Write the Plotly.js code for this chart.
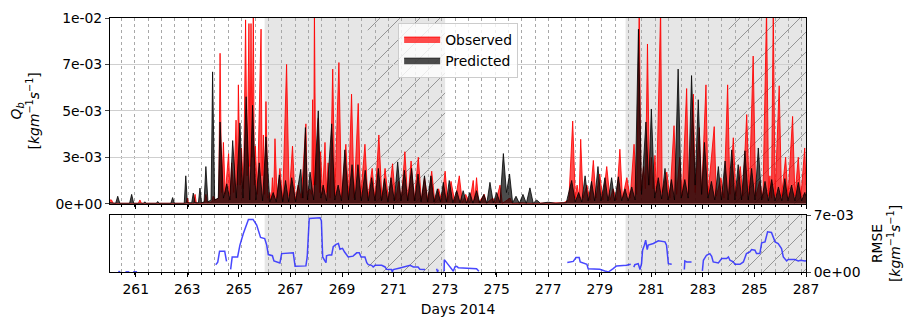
<!DOCTYPE html>
<html>
<head>
<meta charset="utf-8">
<script src="https://cdn.plot.ly/plotly-3.0.1.min.js"></script>
<style>html,body{margin:0;padding:0;background:#fff;}#chart{width:906px;height:317px;}</style>
</head>
<body>
<div id="chart"></div>
<script>
// ---- Data: [day of 2014, Qb in units of 1e-3 kg m^-1 s^-1] ----
const observed = [
[260.0,0.2],[260.06,0.2],[260.12,0.02],[261.1,0.02],[261.16,0.2],[261.22,0.02],[262.95,0.02],[263.0,0.3],[263.05,0.02],[263.25,0.02],[263.3,0.5],[263.35,0.02],
[263.66,0.05],[263.72,0.5],[263.78,0.05],[263.95,0.1],[264.0,0.4],[264.1,0.2],[264.22,0.3],
[264.27,8.1],[264.33,0.6],[264.4,3.3],[264.47,0.5],[264.53,1.6],[264.6,2.7],[264.66,0.5],[264.72,2.2],[264.8,0.6],[264.89,4.5],[264.94,1.0],[264.98,6.4],
[265.05,1.0],[265.1,3.0],[265.18,0.8],[265.26,9.9],[265.32,1.5],[265.39,9.7],[265.43,2.0],[265.47,9.7],[265.51,2.5],[265.56,10.5],[265.6,1.0],[265.64,3.1],[265.72,0.5],
[265.86,9.4],[265.9,1.5],[265.95,3.7],[266.0,0.5],[266.05,5.5],[266.12,0.3],[266.2,0.6],[266.26,0.2],[266.3,1.4],[266.35,0.3],[266.4,3.5],[266.48,0.3],[266.59,1.9],
[266.7,0.2],[266.85,7.5],[266.95,0.4],[267.08,3.1],[267.18,0.2],[267.3,1.0],[267.42,0.3],[267.6,4.3],[267.65,0.6],[267.75,0.8],[267.82,0.5],[267.86,5.6],[267.9,1.0],
[267.93,10.5],[267.98,1.0],[268.08,4.6],[268.13,0.6],[268.17,2.8],[268.25,0.5],[268.34,3.3],[268.4,0.6],[268.46,2.2],[268.54,0.3],[268.64,7.25],[268.72,0.4],
[268.88,7.6],[268.98,0.3],[269.15,3.2],[269.25,0.3],[269.37,5.9],[269.47,0.3],[269.63,5.4],[269.72,0.3],[269.89,3.2],[270.0,0.3],[270.17,1.9],[270.28,0.2],
[270.43,3.7],[270.55,0.2],[270.67,1.9],[270.8,0.2],[270.96,2.15],[271.08,0.2],[271.2,1.2],[271.3,0.15],[271.44,2.8],[271.55,0.15],[271.68,2.3],[271.8,0.15],
[271.96,2.5],[272.08,0.15],[272.2,1.4],[272.34,0.1],[272.48,1.75],[272.6,0.1],[272.75,0.8],[272.87,0.1],[273.0,1.75],[273.1,0.1],[273.23,1.2],[273.38,0.05],
[273.55,1.5],[273.67,0.05],[273.8,0.5],[273.95,0.05],[274.09,1.25],[274.15,0.2],[274.22,1.4],[274.3,0.05],[274.52,0.5],[274.6,0.02],[274.85,0.3],[274.95,0.02],
[275.13,1.0],[275.22,0.02],[275.52,0.3],[275.6,0.02],[276.0,0.05],[276.3,0.02],[276.6,0.02],[277.0,0.05],[277.3,0.02],[277.6,0.05],[277.8,0.2],
[277.95,4.45],[278.05,0.3],[278.12,1.0],[278.2,0.3],[278.26,3.47],[278.35,0.3],[278.5,1.0],[278.62,0.2],[278.75,2.33],[278.85,0.3],[279.0,1.6],
[279.12,0.2],[279.27,2.0],[279.4,0.2],[279.52,0.8],[279.65,0.2],[279.78,2.93],[279.88,0.3],[280.05,1.4],[280.18,0.3],[280.33,3.2],[280.43,0.5],
[280.53,10.5],[280.6,0.7],[280.7,2.0],[280.77,0.8],[280.85,8.6],[280.93,1.0],[281.0,2.5],[281.07,0.8],[281.14,2.6],[281.2,0.6],[281.36,10.5],[281.42,0.6],
[281.6,1.7],[281.72,0.3],[281.88,4.2],[281.98,0.5],[282.1,2.5],[282.2,0.4],[282.37,6.2],[282.45,0.5],[282.63,5.9],[282.7,0.6],[282.86,4.1],[282.95,0.5],
[283.12,6.4],[283.2,0.5],[283.44,4.15],[283.52,0.4],[283.7,1.4],[283.82,0.3],[283.96,6.4],[284.05,0.5],[284.18,3.55],[284.28,0.4],[284.45,2.0],[284.55,0.4],
[284.7,4.8],[284.8,0.5],[284.95,7.95],[285.05,0.4],[285.2,1.2],[285.33,0.3],[285.47,10.5],[285.55,0.4],[285.6,1.5],[285.66,0.3],[285.73,10.5],[285.8,0.4],
[285.96,6.35],[286.05,0.4],[286.21,2.5],[286.3,0.3],[286.48,4.7],[286.57,0.4],[286.7,2.5],[286.8,0.3],[286.95,3.0],[287.0,1.0]];

const predicted = [
[260.0,0.05],[260.22,0.02],[260.3,0.4],[260.38,0.02],[260.76,0.02],[260.84,0.5],[260.92,0.02],[261.3,0.02],[261.35,0.1],[261.4,0.02],[261.8,0.02],[261.85,0.12],
[261.9,0.02],[262.36,0.02],[262.43,0.33],[262.5,0.02],[262.88,0.02],[262.94,1.5],[263.0,0.05],[263.17,0.05],[263.23,0.57],[263.3,0.05],[263.43,0.05],[263.49,0.84],
[263.55,0.05],[263.65,0.1],[263.72,2.0],[263.8,0.1],[263.92,0.2],[263.98,7.1],[264.06,0.2],[264.2,0.3],[264.27,4.4],[264.4,0.3],[264.53,1.07],[264.65,0.2],
[264.76,3.4],[264.9,0.3],[265.04,4.35],[265.16,0.3],[265.28,5.76],[265.42,0.2],[265.53,5.3],[265.66,0.2],[265.79,2.2],[265.92,0.15],[266.05,3.6],[266.2,0.1],
[266.33,0.6],[266.45,0.1],[266.57,1.55],[266.7,0.1],[266.81,1.25],[266.93,0.1],[267.05,1.4],[267.2,0.1],[267.4,1.85],[267.48,0.3],[267.58,4.1],[267.66,0.2],
[267.76,1.7],[267.9,0.2],[268.08,5.0],[268.18,0.3],[268.27,1.0],[268.4,0.15],[268.6,4.3],[268.72,0.2],[268.85,1.0],[268.98,0.15],[269.11,2.9],[269.25,0.2],
[269.39,2.1],[269.5,0.2],[269.62,2.1],[269.75,0.15],[269.9,1.8],[270.02,0.15],[270.15,1.4],[270.28,0.15],[270.41,1.9],[270.53,0.15],[270.65,1.35],[270.78,0.1],
[270.9,1.4],[271.03,0.15],[271.16,2.25],[271.29,0.15],[271.42,1.8],[271.55,0.15],[271.7,1.9],[271.82,0.15],[271.95,1.6],[272.07,0.1],[272.2,1.5],[272.32,0.1],
[272.45,1.5],[272.57,0.1],[272.7,0.8],[272.82,0.1],[272.93,1.15],[273.05,0.1],[273.16,1.25],[273.3,0.05],[273.45,0.7],[273.58,0.05],[273.7,0.7],[273.83,0.03],
[273.96,0.6],[274.08,0.03],[274.22,0.7],[274.35,0.03],[274.5,0.5],[274.62,0.03],[274.74,1.15],[274.87,0.05],[275.0,0.6],[275.13,0.05],[275.26,2.7],[275.38,0.6],
[275.5,1.6],[275.62,0.05],[275.75,0.4],[275.88,0.02],[276.02,0.5],[276.15,0.02],[276.29,0.85],[276.42,0.02],[276.55,0.2],[276.7,0.02],[277.0,0.08],[277.3,0.02],
[277.55,0.05],[277.7,0.05],[277.91,1.25],[278.05,0.1],[278.18,0.6],[278.3,0.1],[278.43,1.5],[278.55,0.15],[278.68,1.2],[278.8,0.15],[278.93,2.0],[279.05,0.15],
[279.2,1.4],[279.32,0.15],[279.46,1.4],[279.58,0.15],[279.72,1.45],[279.85,0.15],[279.98,0.8],[280.1,0.15],[280.24,0.9],[280.37,0.2],[280.5,9.4],[280.62,0.5],
[280.79,4.4],[280.9,1.0],[281.0,5.1],[281.13,0.3],[281.27,1.4],[281.4,0.25],[281.53,1.9],[281.65,0.2],[281.78,1.3],[281.9,0.2],[282.04,7.25],[282.16,0.3],
[282.3,1.3],[282.43,0.3],[282.56,6.9],[282.7,1.0],[282.82,5.6],[282.95,0.5],[283.06,3.3],[283.2,0.3],[283.33,1.2],[283.46,0.2],[283.6,2.0],[283.72,0.2],
[283.86,2.3],[283.98,0.2],[284.12,2.9],[284.24,0.2],[284.37,2.1],[284.5,0.2],[284.63,2.85],[284.76,0.2],[284.89,1.9],[285.02,0.2],[285.15,3.0],[285.28,0.2],
[285.41,1.2],[285.54,0.15],[285.67,1.3],[285.8,0.15],[285.93,0.9],[286.06,0.15],[286.18,1.35],[286.3,0.15],[286.44,1.0],[286.57,0.15],[286.7,1.15],[286.83,0.15],
[286.95,0.6],[287.0,0.4]];

// RMSE (units of 1e-3), null = gap in record
const rmseDays = [260.32,260.4,null,260.6,260.75,null,260.9,261.05,null,
264.1,264.18,264.25,264.45,264.52,null,
264.68,264.74,264.95,265.04,265.17,265.3,265.37,265.55,265.69,265.84,266.0,266.08,266.14,266.3,266.36,266.59,266.66,267.11,267.18,267.6,267.65,267.73,268.15,268.2,268.25,268.33,268.38,268.4,268.5,268.6,268.66,268.77,268.86,268.92,269.02,269.1,269.24,269.43,269.57,269.67,269.74,269.89,269.96,270.02,270.15,270.21,270.28,270.54,270.67,270.73,270.92,270.95,270.99,271.25,271.38,271.51,271.64,271.77,271.95,272.02,272.22,null,
272.67,272.71,272.73,null,
272.96,272.97,273.06,273.25,273.32,273.38,273.45,273.51,273.7,274.22,274.31,null,
277.74,277.97,278.08,278.2,278.24,278.37,278.5,278.55,278.95,279.0,279.2,279.33,279.52,279.65,280.04,280.2,null,
280.32,280.36,280.49,280.56,280.62,280.66,280.73,280.78,280.84,280.88,281.08,281.21,281.27,281.53,281.59,281.66,281.79,null,
282.28,282.3,282.37,282.56,null,
282.98,283.02,283.14,283.27,283.34,283.4,283.6,283.66,283.73,283.92,283.99,284.05,284.18,284.24,284.44,284.57,284.69,284.82,284.89,285.02,285.08,285.21,285.28,285.41,285.51,285.66,285.73,285.8,285.92,285.99,286.05,286.12,286.18,286.25,286.31,286.57,286.7,286.79,286.96,287.0];
const rmseVal = [0.05,0.05,null,0.02,0.02,null,0.02,0.02,null,
0.9,1.2,2.55,2.55,1.3,null,
0.33,1.85,1.85,3.3,4.7,5.76,6.46,6.46,5.76,4.24,4.1,3.3,2.14,2.0,1.36,1.1,2.26,2.35,0.7,0.75,1.85,6.58,6.66,6.3,1.85,1.4,1.15,2.0,2.1,2.1,3.1,3.4,3.5,2.8,2.9,2.45,1.85,1.95,2.35,2.35,1.85,1.85,1.15,0.9,0.82,0.62,0.82,0.82,0.62,0.33,0.3,0.0,0.3,0.5,0.62,0.75,0.82,0.62,0.62,0.33,0.3,null,
0.4,0.0,0.3,null,
0.1,1.5,1.15,0.4,0.1,0.62,0.7,0.53,0.5,0.4,0.1,null,
1.16,1.3,1.77,1.77,1.24,1.12,0.95,0.41,0.41,0.33,0.12,0.0,0.41,0.74,0.82,0.95,null,
0.6,0.9,1.03,0.3,1.03,2.67,3.3,3.9,2.76,3.3,3.5,3.7,3.83,3.7,3.3,1.03,0.95,null,
0.3,1.36,1.24,1.24,null,
0.13,1.44,2.06,2.26,1.94,1.24,1.12,1.44,1.65,1.65,1.85,1.44,1.24,0.95,0.95,1.24,2.26,2.47,2.76,2.67,2.26,2.26,3.58,3.7,4.94,4.86,4.32,3.7,3.5,3.09,2.88,1.85,1.65,1.36,1.53,1.53,1.36,1.44,1.36,1.4];

const shadeSpans = [[266,273],[280,287]];
const hatchSpans = [[270,273],[284,287]];
const qbTickVals = [0,0.0025,0.005,0.0075,0.01];
const qbTickText = ['0e+00','3e-03','5e-03','7e-03','1e-02'];
const rmseTickVals = [0,0.007];
const rmseTickText = ['0e+00','7e-03'];
const TIDAL_CYCLE = 0.5175;   // M2 period in days (dotted guide lines)
const CYCLE_START = 260.45;
const SCALE = 1e-3;
const X_RANGE = [260, 287];
const QB_MAX = 0.01, RMSE_MAX = 0.007;

const FONT = 'DejaVu Sans';
const FS = 13.9;

// ---- Layout geometry ----
const W = 906, H = 317, M = {l:110, r:100, t:18, b:45};
const plotW = W - M.l - M.r, plotH = H - M.t - M.b;
const DOM_TOP = [0.269, 1], DOM_BOT = [0, 0.2244];
const HATCH_GAP = 20; // px between hatch lines

const traces = [];
traces.push({
  type:'scatter', mode:'lines', name:'Observed',
  x:observed.map(p=>p[0]), y:observed.map(p=>p[1]*SCALE),
  xaxis:'x', yaxis:'y', fill:'tozeroy', fillcolor:'rgba(255,0,0,0.7)',
  line:{color:'rgba(255,0,0,0.85)', width:1}
});
traces.push({
  type:'scatter', mode:'lines', name:'Predicted',
  x:predicted.map(p=>p[0]), y:predicted.map(p=>p[1]*SCALE),
  xaxis:'x', yaxis:'y', fill:'tozeroy', fillcolor:'rgba(0,0,0,0.7)',
  line:{color:'rgba(0,0,0,0.8)', width:1}
});
traces.push({
  type:'scatter', mode:'lines', name:'RMSE', x:rmseDays, y:rmseVal.map(v=>v===null?null:v*SCALE),
  xaxis:'x2', yaxis:'y2', line:{color:'rgba(40,40,255,0.85)', width:1.5}, showlegend:false,
  connectgaps:false
});

const shapes = [];
shadeSpans.forEach(s => {
  ['y domain','y2 domain'].forEach((yr,i) => {
    shapes.push({type:'rect', xref: i===0?'x':'x2', yref:yr, x0:s[0], x1:s[1], y0:0, y1:1,
      fillcolor:'rgba(128,128,128,0.2)', line:{width:0}, layer:'below'});
  });
});
// '/' hatching: 45-degree lines in pixel space, clipped to each hatched span
const pxPerDay = plotW / (X_RANGE[1] - X_RANGE[0]);
hatchSpans.forEach(s => {
  [['x','y',DOM_TOP,QB_MAX],['x2','y2',DOM_BOT,RMSE_MAX]].forEach(([xr,yr,dom,ymax]) => {
    const wPx = (s[1]-s[0]) * pxPerDay;
    const hPx = (dom[1]-dom[0]) * plotH;
    let path = '';
    const phase = ((M.l + (s[0]-X_RANGE[0])*pxPerDay) % HATCH_GAP);
    for (let c = -hPx - phase; c < wPx; c += HATCH_GAP) {
      const v0 = Math.max(0, -c), u0 = c + v0;
      const u1 = Math.min(wPx, c + hPx), v1 = u1 - c;
      if (u1 <= u0) continue;
      const X0 = s[0] + u0/pxPerDay, Y0 = v0/hPx*ymax;
      const X1 = s[0] + u1/pxPerDay, Y1 = v1/hPx*ymax;
      path += `M${X0},${Y0}L${X1},${Y1}`;
    }
    shapes.push({type:'path', xref:xr, yref:yr, path:path, line:{color:'#959595', width:1}, layer:'below'});
  });
});

const xCommon = {
  range:X_RANGE, tick0:261, dtick:2, showgrid:false, zeroline:false,
  showline:true, linecolor:'#000', linewidth:1, mirror:true,
  ticks:'outside', ticklen:4, tickcolor:'#000',
  minor:{tick0:CYCLE_START, dtick:TIDAL_CYCLE, showgrid:true, gridcolor:'#a8a8a8', griddash:'dot', gridwidth:1, ticks:'outside', ticklen:2, tickcolor:'#000'},
  tickfont:{family:FONT, size:FS, color:'#000'}
};

const layout = {
  width:W, height:H,
  margin:M,
  paper_bgcolor:'#fff', plot_bgcolor:'rgba(0,0,0,0)',
  font:{family:FONT, size:FS, color:'#000'},
  showlegend:true,
  legend:{x:0.414, y:0.982, xanchor:'left', yanchor:'top', bgcolor:'rgba(255,255,255,0.8)',
    bordercolor:'#cccccc', borderwidth:1, itemwidth:36, font:{family:FONT, size:FS, color:'#000'}},
  xaxis: Object.assign({}, xCommon, {anchor:'y', showticklabels:false, matches:'x2'}),
  xaxis2: Object.assign({}, xCommon, {anchor:'y2',
    title:{text:'Days 2014', font:{family:FONT, size:FS}, standoff:8}}),
  yaxis: {domain:DOM_TOP, range:[0,QB_MAX], tickvals:qbTickVals, ticktext:qbTickText,
    showgrid:true, gridcolor:'#cfcfcf', gridwidth:1, zeroline:false,
    showline:true, linecolor:'#000', mirror:true, ticks:'outside', ticklen:4,
    tickfont:{family:FONT, size:FS},
    title:{text:'<i>Q</i><sub><i>b</i></sub><br>[<i>kgm</i><sup>−1</sup><i>s</i><sup>−1</sup>]', font:{family:FONT, size:FS}, standoff:12}},
  yaxis2: {domain:DOM_BOT, range:[0,RMSE_MAX], side:'right', anchor:'x2',
    tickvals:rmseTickVals, ticktext:rmseTickText, showgrid:false, zeroline:false,
    showline:true, linecolor:'#000', mirror:true, ticks:'outside', ticklen:4,
    tickfont:{family:FONT, size:FS},
    title:{text:'RMSE<br>[<i>kgm</i><sup>−1</sup><i>s</i><sup>−1</sup>]', font:{family:FONT, size:FS}, standoff:12}},
  shapes: shapes
};

Plotly.newPlot('chart', traces, layout, {staticPlot:true, displayModeBar:false});
</script>
</body>
</html>
